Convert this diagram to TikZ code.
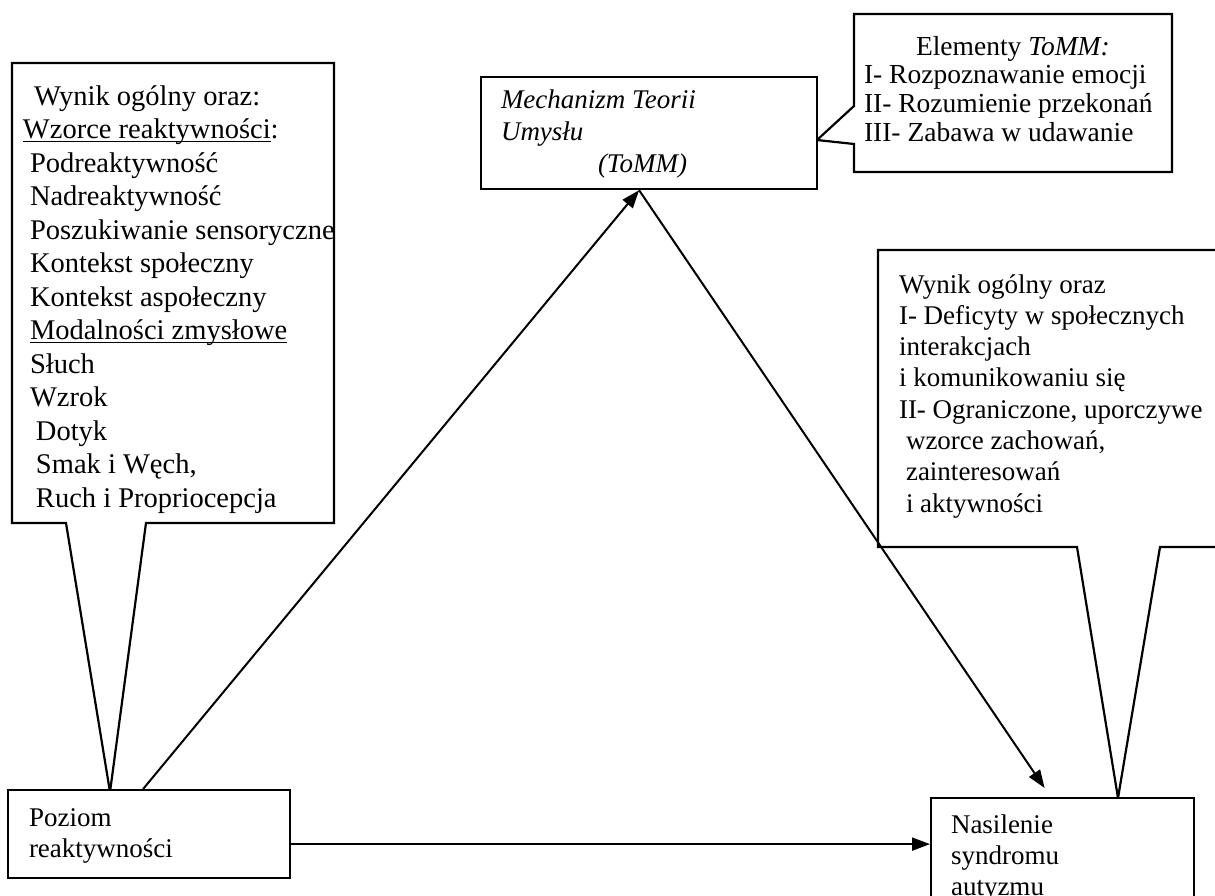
\documentclass[tikz,border=0pt]{standalone}
\usepackage{fontspec}
\setmainfont{Liberation Serif}
\usetikzlibrary{arrows.meta}

% underline drawn close to the baseline, crossing the descenders
\newcommand\ulword[1]{\setbox0\hbox{#1}\rlap{\rule[-3.5pt]{\wd0}{1.4pt}}\box0}
% fixes the height of the first line so that north west = baseline - 24pt
\newcommand\firststrut{\rule{0pt}{24pt}}

\tikzset{
  box/.style={draw, line width=2.2pt, fill=white, inner sep=0pt, anchor=north west},
  callout/.style={draw, line width=2.2pt, fill=white, line join=miter},
  txt/.style={inner sep=0pt, anchor=north west, align=left},
  arr/.style={-{Triangle[length=18pt,width=13pt]}, line width=2pt},
}

\begin{document}
\begin{tikzpicture}[x=1pt, y=-1pt, line width=2pt]
\useasboundingbox (0,0) rectangle (1215,895);
\fill[white] (0,0) rectangle (1215,895);
\clip (0,0) rectangle (1215,895);

% speech-bubble callouts
\coordinate (ltip) at (110,792);
\coordinate (ttip) at (817,140);
\coordinate (rtip) at (1118,798);
\draw[callout] (12,63) -- (334,63) -- (334,523) -- (146,523) -- (ltip)
  -- (66,523) -- (12,523) -- cycle;
\draw[callout] (854,14) -- (1172,14) -- (1172,172) -- (854,172) -- (854,144)
  -- (ttip) -- (854,106) -- cycle;
\draw[callout] (878,250) -- (1230,250) -- (1230,547) -- (1160,547) -- (rtip)
  -- (1077,547) -- (878,547) -- cycle;

% main boxes
\node[box, minimum width=282pt, minimum height=88pt] (poziom) at (7,789) {};
\node[box, minimum width=336pt, minimum height=112pt] (tomm) at (480,76) {};
\node[box, minimum width=263pt, minimum height=130pt] (nasil) at (930,797) {};

% texts
\node[txt, font=\fontsize{28.5}{33.5}\selectfont] (ltext) at (22,80) {%
\firststrut\hspace*{11pt}Wynik ogólny oraz:\\
\ulword{Wzorce reaktywności}:\\
\hspace*{7pt}Podreaktywność\\
\hspace*{7pt}Nadreaktywność\\
\hspace*{7pt}Poszukiwanie sensoryczne\\
\hspace*{7pt}Kontekst społeczny\\
\hspace*{7pt}Kontekst aspołeczny\\
\hspace*{7pt}\ulword{Modalności zmysłowe}\\
\hspace*{7pt}Słuch\\
\hspace*{7pt}Wzrok\\
\hspace*{13pt}Dotyk\\
\hspace*{13pt}Smak i Węch,\\
\hspace*{13pt}Ruch i Propriocepcja};

\node[txt, font=\fontsize{27.5}{28.7}\selectfont] (ttext) at (863,30) {%
\firststrut\hspace*{52pt}Elementy \textit{ToMM:}\\
I- Rozpoznawanie emocji\\
II- Rozumienie przekonań\\
III- Zabawa w udawanie};

\node[txt, font=\fontsize{27}{31.3}\selectfont] (rtext) at (898,268) {%
\firststrut Wynik ogólny oraz\\
I- Deficyty w społecznych\\
interakcjach\\
i komunikowaniu się\\
II- Ograniczone, uporczywe\\
\hspace*{7pt}wzorce zachowań,\\
\hspace*{7pt}zainteresowań\\
\hspace*{7pt}i aktywności};

\node[txt, font=\fontsize{27}{32}\selectfont\itshape] (tommtext) at (500,83) {%
\firststrut Mechanizm Teorii\\
Umysłu\\
\hspace*{97pt}(ToMM)};

\node[txt, font=\fontsize{27}{31}\selectfont] (poziomtext) at (28,801) {%
\firststrut Poziom\\
reaktywności};

\node[txt, font=\fontsize{27}{31}\selectfont] (nasiltext) at (950,808) {%
\firststrut Nasilenie\\
syndromu\\
autyzmu};

% connectors
\draw[arr] ([yshift=-10pt]poziom.east) -- ([yshift=-10pt]poziom.east -| nasil.west);
\draw[arr] ([xshift=-6pt]poziom.north) -- ([xshift=-10pt]tomm.south);
\draw[arr] ([xshift=-10pt]tomm.south) -- ([xshift=-18pt,yshift=9pt]nasil.north);
\end{tikzpicture}
\end{document}
